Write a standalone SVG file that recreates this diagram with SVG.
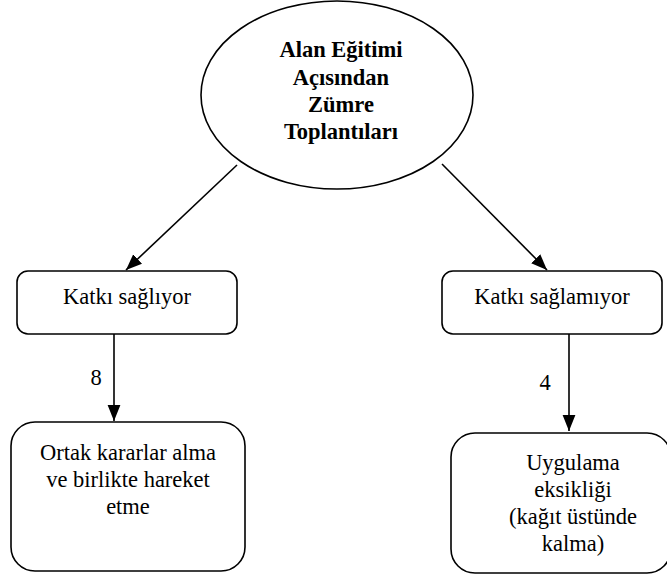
<svg xmlns="http://www.w3.org/2000/svg" width="667" height="575" viewBox="0 0 667 575">
<style>
.box{fill:#fff;stroke:#000;stroke-width:1.6}
.t{font-family:"Times New Roman","Liberation Serif",Tinos,"DejaVu Serif","Noto Serif",serif;font-size:22.5px;fill:#000;text-anchor:middle}
.b{font-weight:bold}
.c{stroke:#000;stroke-width:1.6;fill:none}
</style>
<defs>
<marker id="ah2" viewBox="0 0 10 10" refX="10" refY="5" markerWidth="16" markerHeight="16" orient="auto" markerUnits="userSpaceOnUse">
<path d="M0,1 L10,5 L0,9 z" fill="#000"/>
</marker>
</defs>
<g id="root">
<ellipse class="box" cx="337" cy="95" rx="136" ry="94"/>
<text class="t b" x="341" y="57">Alan Eğitimi</text>
<text class="t b" x="341" y="85">Açısından</text>
<text class="t b" x="341" y="112">Zümre</text>
<text class="t b" x="341" y="139">Toplantıları</text>
</g>
<g id="n1">
<rect class="box" x="17" y="271" width="220" height="63" rx="11"/>
<text class="t" x="127" y="304">Katkı sağlıyor</text>
</g>
<g id="n2">
<rect class="box" x="442" y="271" width="220" height="63" rx="11"/>
<text class="t" x="552" y="304">Katkı sağlamıyor</text>
</g>
<g id="n3">
<rect class="box" x="11" y="422" width="234" height="149" rx="24"/>
<text class="t" x="128" y="460">Ortak kararlar alma</text>
<text class="t" x="128" y="487">ve birlikte hareket</text>
<text class="t" x="128" y="514">etme</text>
</g>
<g id="n4">
<rect class="box" x="451" y="433" width="220" height="140" rx="24"/>
<text class="t" x="573" y="470">Uygulama</text>
<text class="t" x="573" y="497">eksikliği</text>
<text class="t" x="573" y="524">(kağıt üstünde</text>
<text class="t" x="573" y="551">kalma)</text>
</g>
<g id="connectors">
<line class="c" x1="237" y1="165" x2="126" y2="270" marker-end="url(#ah2)"/>
<line class="c" x1="442" y1="164" x2="547" y2="270" marker-end="url(#ah2)"/>
<line class="c" x1="114" y1="334" x2="114" y2="421" marker-end="url(#ah2)"/>
<line class="c" x1="569" y1="334" x2="569" y2="431" marker-end="url(#ah2)"/>
<text class="t" x="96" y="385">8</text>
<text class="t" x="545" y="390">4</text>
</g>
</svg>
